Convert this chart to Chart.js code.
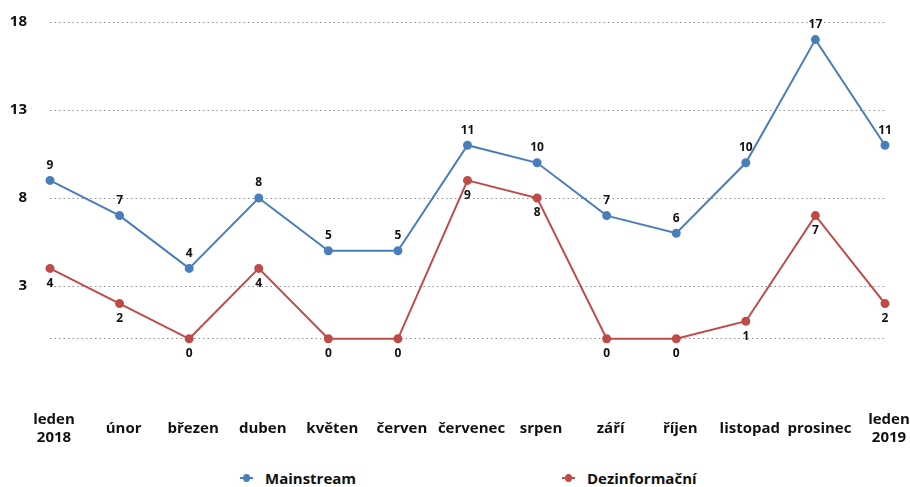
<!DOCTYPE html>
<html>
<head>
<meta charset="utf-8">
<script src="https://cdn.jsdelivr.net/npm/chart.js@4"></script>
<style>
    html, body { margin: 0; padding: 0; background: #fff; }
    #wrap { position: relative; width: 910px; height: 487px; }
    #box { width: 910px; height: 455px; }
    .leg { position: absolute; top: 468px; font: bold 15px "Open Sans", "Noto Sans", sans-serif; color: #111; line-height: 20px; }
    .leg .mk { position: absolute; left: 0; top: 9px; width: 13px; height: 2px; }
    .leg .mk::after { content: ''; position: absolute; left: 3px; top: -3px; width: 7px; height: 8px; border-radius: 50%; background: inherit; }
    .leg .tx { padding-left: 25px; white-space: nowrap; }
</style>
</head>
<body>
<div id="wrap">
    <div id="box"><canvas id="chart"></canvas></div>
    <div class="leg" id="leg0" style="left:240px"><span class="mk"></span><span class="tx"></span></div>
    <div class="leg" id="leg1" style="left:562px"><span class="mk"></span><span class="tx"></span></div>
</div>
<script>
// Data
const months = [
    ['leden', '2018'], 'únor', 'březen', 'duben', 'květen', 'červen',
    'červenec', 'srpen', 'září', 'říjen', 'listopad', 'prosinec', ['leden', '2019']
];
const mainstream = [9, 7, 4, 8, 5, 5, 11, 10, 7, 6, 10, 17, 11];
const dezinfo = [4, 2, 0, 4, 0, 0, 9, 8, 0, 0, 1, 7, 2];
const yTicks = [0, 3, 8, 13, 18];
const seriesNames = ['Mainstream', 'Dezinformační'];
const seriesColors = ['#4a7ebb', '#be4b48'];

const FONT = '"Open Sans", "Noto Sans", sans-serif';

// popisky hodnot: modrá nad bodem, červená pod bodem
const valueLabels = {
    id: 'valueLabels',
    afterDatasetsDraw(chart) {
        const ctx = chart.ctx;
        ctx.save();
        ctx.font = 'bold 12px ' + FONT;
        ctx.fillStyle = '#111';
        ctx.textAlign = 'center';
        ctx.textBaseline = 'middle';
        chart.data.datasets.forEach((ds, i) => {
            const meta = chart.getDatasetMeta(i);
            meta.data.forEach((pt, j) => {
                const dy = i === 0 ? -15 : 15;
                ctx.fillText(ds.data[j], pt.x, pt.y + dy);
            });
        });
        ctx.restore();
    }
};

const chart = new Chart(document.getElementById('chart'), {
    type: 'line',
    data: {
        labels: months,
        datasets: [
            {
                label: seriesNames[0], data: mainstream,
                borderColor: seriesColors[0], backgroundColor: seriesColors[0],
                borderWidth: 2, pointRadius: 3.5, pointHoverRadius: 3.5, tension: 0
            },
            {
                label: seriesNames[1], data: dezinfo,
                borderColor: seriesColors[1], backgroundColor: seriesColors[1],
                borderWidth: 2, pointRadius: 3.5, pointHoverRadius: 3.5, tension: 0
            }
        ]
    },
    options: {
        responsive: true,
        maintainAspectRatio: false,
        animation: false,
        layout: { padding: { top: 22, right: 25, left: 10, bottom: 0 } },
        scales: {
            x: {
                afterFit: axis => { axis.height = 81; axis.paddingLeft = 0; axis.paddingRight = 0; },
                grid: { display: false },
                border: { display: false },
                ticks: {
                    color: '#111', font: { family: FONT, size: 15, weight: 'bold' },
                    padding: 38, maxRotation: 0, autoSkip: false,
                    crossAlign: 'center', labelOffset: 4
                }
            },
            y: {
                min: -2, max: 18,
                afterBuildTicks: axis => { axis.ticks = yTicks.map(v => ({ value: v })); },
                afterFit: axis => { axis.width = 40; axis.paddingTop = 0; axis.paddingBottom = 0; },
                grid: { color: '#8c8c8c', lineWidth: 1, drawTicks: false },
                border: { display: false, dash: [1.5, 3] },
                ticks: {
                    color: '#111', font: { family: FONT, size: 15, weight: 'bold' },
                    padding: 23,
                    callback: v => (v === 0 ? '' : v)
                }
            }
        },
        plugins: {
            legend: { display: false },
            tooltip: { enabled: false }
        }
    },
    plugins: [valueLabels]
});

// legenda pod grafem
seriesNames.forEach((name, i) => {
    const el = document.getElementById('leg' + i);
    el.querySelector('.mk').style.background = seriesColors[i];
    el.querySelector('.tx').textContent = name;
});
</script>
</body>
</html>
